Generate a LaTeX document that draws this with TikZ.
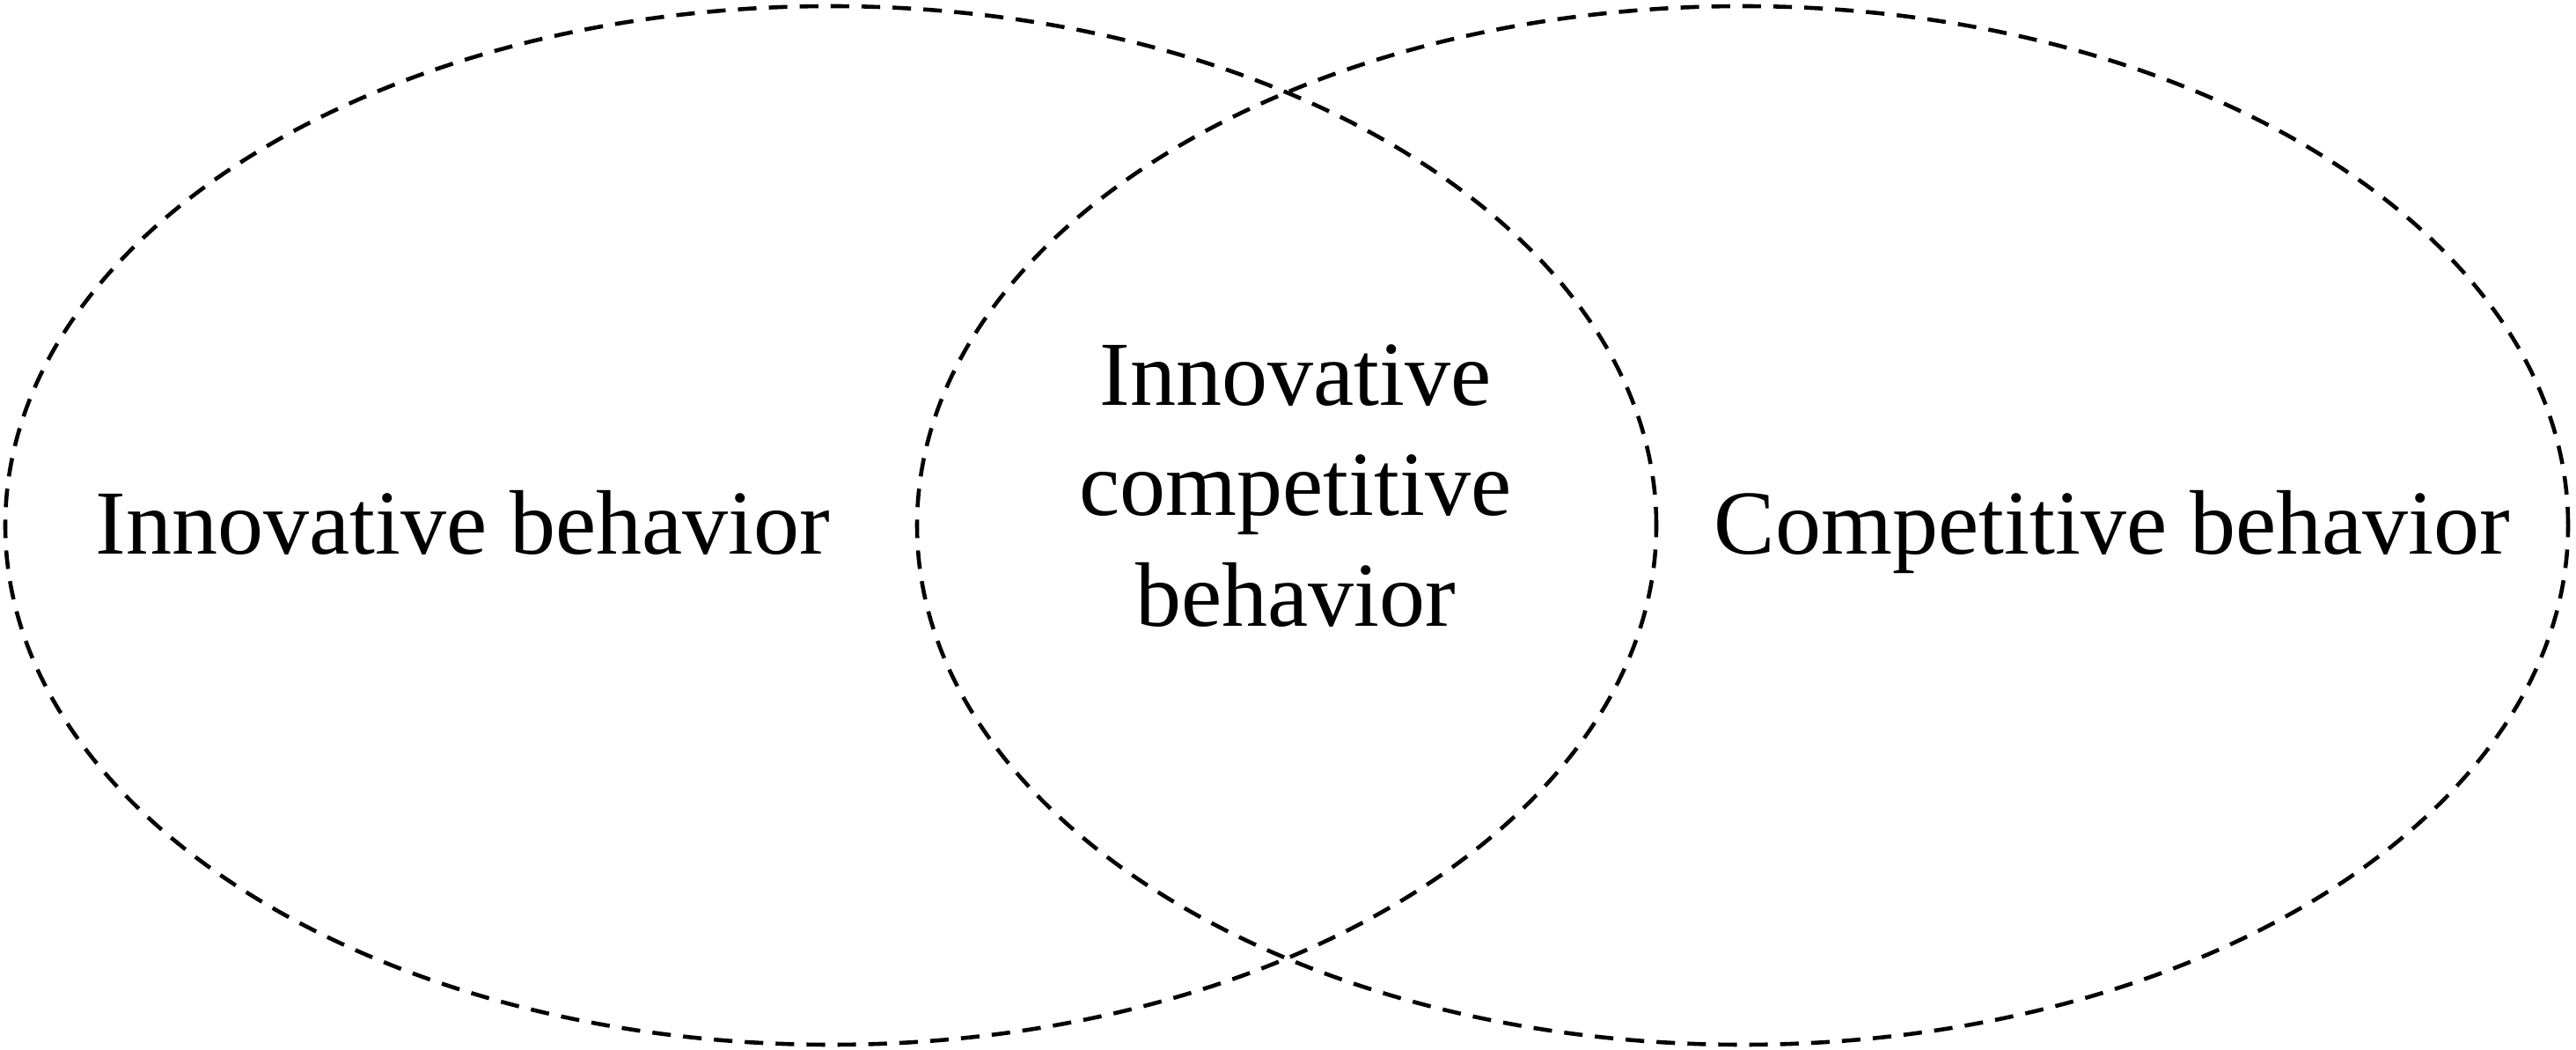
\documentclass[tikz,border=0pt]{standalone}
\usepackage{fontspec}
\setmainfont{Liberation Serif}
\usepackage{tikz}
\usetikzlibrary{positioning}

\begin{document}
\begin{tikzpicture}[
    venn/.style={dash pattern=on 6pt off 4pt, line width=1.3pt},
    label/.style={font={\fontsize{29.6pt}{35.6pt}\selectfont}, inner sep=0pt}
  ]
    \useasboundingbox (0,0) rectangle (29.27,11.92);

    \coordinate (cl) at (9.44,5.95);
    \coordinate (cr) at (19.80,5.95);

    \draw[venn] (cl) ellipse (9.38 and 5.90);
    \draw[venn] (cr) ellipse (9.38 and 5.90);

    \node[label,anchor=base] (inno) at (5.26,5.62) {Innovative behavior};
    \node[label,anchor=base] (comp) at (24.00,5.62) {Competitive behavior};
    \node[label,align=center] (both) at (14.72,6.40) {Innovative\\competitive\\behavior};
\end{tikzpicture}
\end{document}
